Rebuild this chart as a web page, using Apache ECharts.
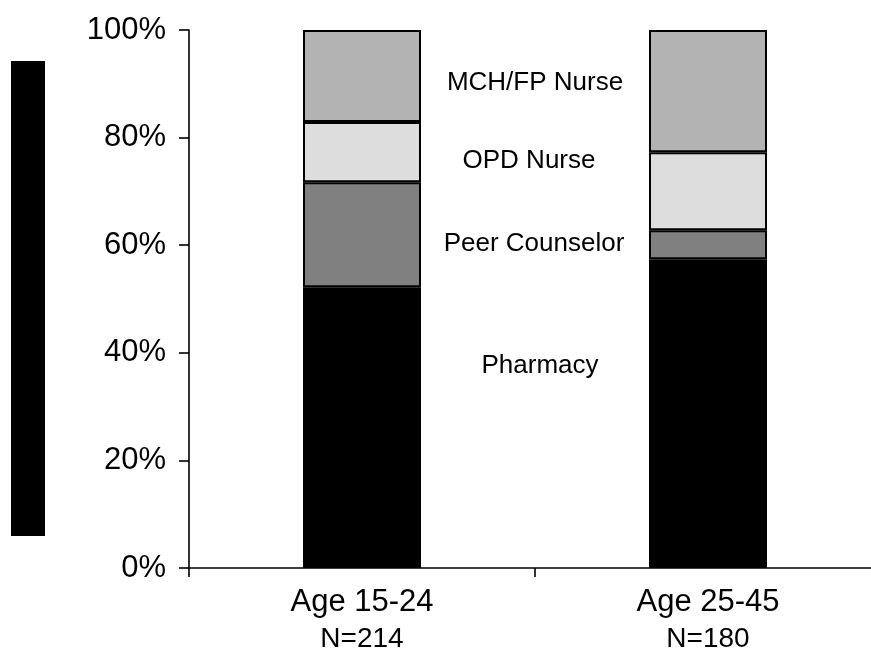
<!DOCTYPE html>
<html>
<head>
<meta charset="utf-8">
<script src="https://cdn.jsdelivr.net/npm/echarts@6/dist/echarts.min.js"></script>
<style>html,body{margin:0;padding:0;background:#fff;}#c{width:871px;height:652px;}</style>
</head>
<body>
<div id="c"></div>
<script>
var categories = ['Age 15-24', 'Age 25-45'];
var sampleSizes = ['N=214', 'N=180'];
var pharmacy = [52.2, 57.4];
var peerCounselor = [19.5, 5.4];
var opdNurse = [11.2, 14.5];
var mchNurse = [17.1, 22.7];
var seriesNames = ['Pharmacy', 'Peer Counselor', 'OPD Nurse', 'MCH/FP Nurse'];
var yTicks = [0, 20, 40, 60, 80, 100];

var FONT = '"Liberation Sans", Arial, sans-serif';
var chart = echarts.init(document.getElementById('c'), null, {renderer: 'canvas'});

function mkSeries(name, data, color) {
  return {
    name: name, type: 'bar', stack: 'total', data: data,
    barWidth: 118,
    itemStyle: {color: color, borderColor: '#000', borderWidth: 2},
    emphasis: {disabled: true}
  };
}

var labelStyle = {fontFamily: FONT, fontSize: 26, fill: '#000', textAlign: 'center', textVerticalAlign: 'middle'};
function txt(s, x, y) {
  return {type: 'text', x: x, y: y, style: Object.assign({text: s}, labelStyle), silent: true};
}

chart.setOption({
  animation: false,
  backgroundColor: '#fff',
  grid: {left: 189, top: 30, height: 538, width: 692, containLabel: false, outerBoundsMode: 'none'},
  xAxis: {
    type: 'category',
    data: categories,
    axisLine: {lineStyle: {color: '#000', width: 1.6}},
    axisTick: {show: true, length: 9, lineStyle: {color: '#000', width: 1.6}},
    axisLabel: {
      margin: 16,
      interval: 0,
      formatter: function (v, i) { return '{a|' + v + '}\n{b|' + sampleSizes[i] + '}'; },
      rich: {
        a: {fontFamily: FONT, fontSize: 31, color: '#000', lineHeight: 37},
        b: {fontFamily: FONT, fontSize: 28, color: '#000', lineHeight: 37}
      }
    },
    splitLine: {show: false}
  },
  yAxis: {
    type: 'value',
    min: yTicks[0], max: yTicks[yTicks.length - 1], interval: 20,
    axisLine: {show: true, lineStyle: {color: '#000', width: 1.6}},
    axisTick: {show: true, length: 10, lineStyle: {color: '#000', width: 1.6}},
    axisLabel: {margin: 23, fontFamily: FONT, fontSize: 31, color: '#000', formatter: '{value}%'},
    splitLine: {show: false}
  },
  series: [
    mkSeries(seriesNames[0], pharmacy, '#000000'),
    mkSeries(seriesNames[1], peerCounselor, '#808080'),
    mkSeries(seriesNames[2], opdNurse, '#dddddd'),
    mkSeries(seriesNames[3], mchNurse, '#b3b3b3')
  ],
  graphic: [
    {type: 'rect', shape: {x: 11, y: 61, width: 34, height: 475}, style: {fill: '#000'}, silent: true},
    txt(seriesNames[3], 535, 83),
    txt(seriesNames[2], 529, 161),
    txt(seriesNames[1], 534, 244),
    txt(seriesNames[0], 540, 366)
  ]
});
</script>
</body>
</html>
